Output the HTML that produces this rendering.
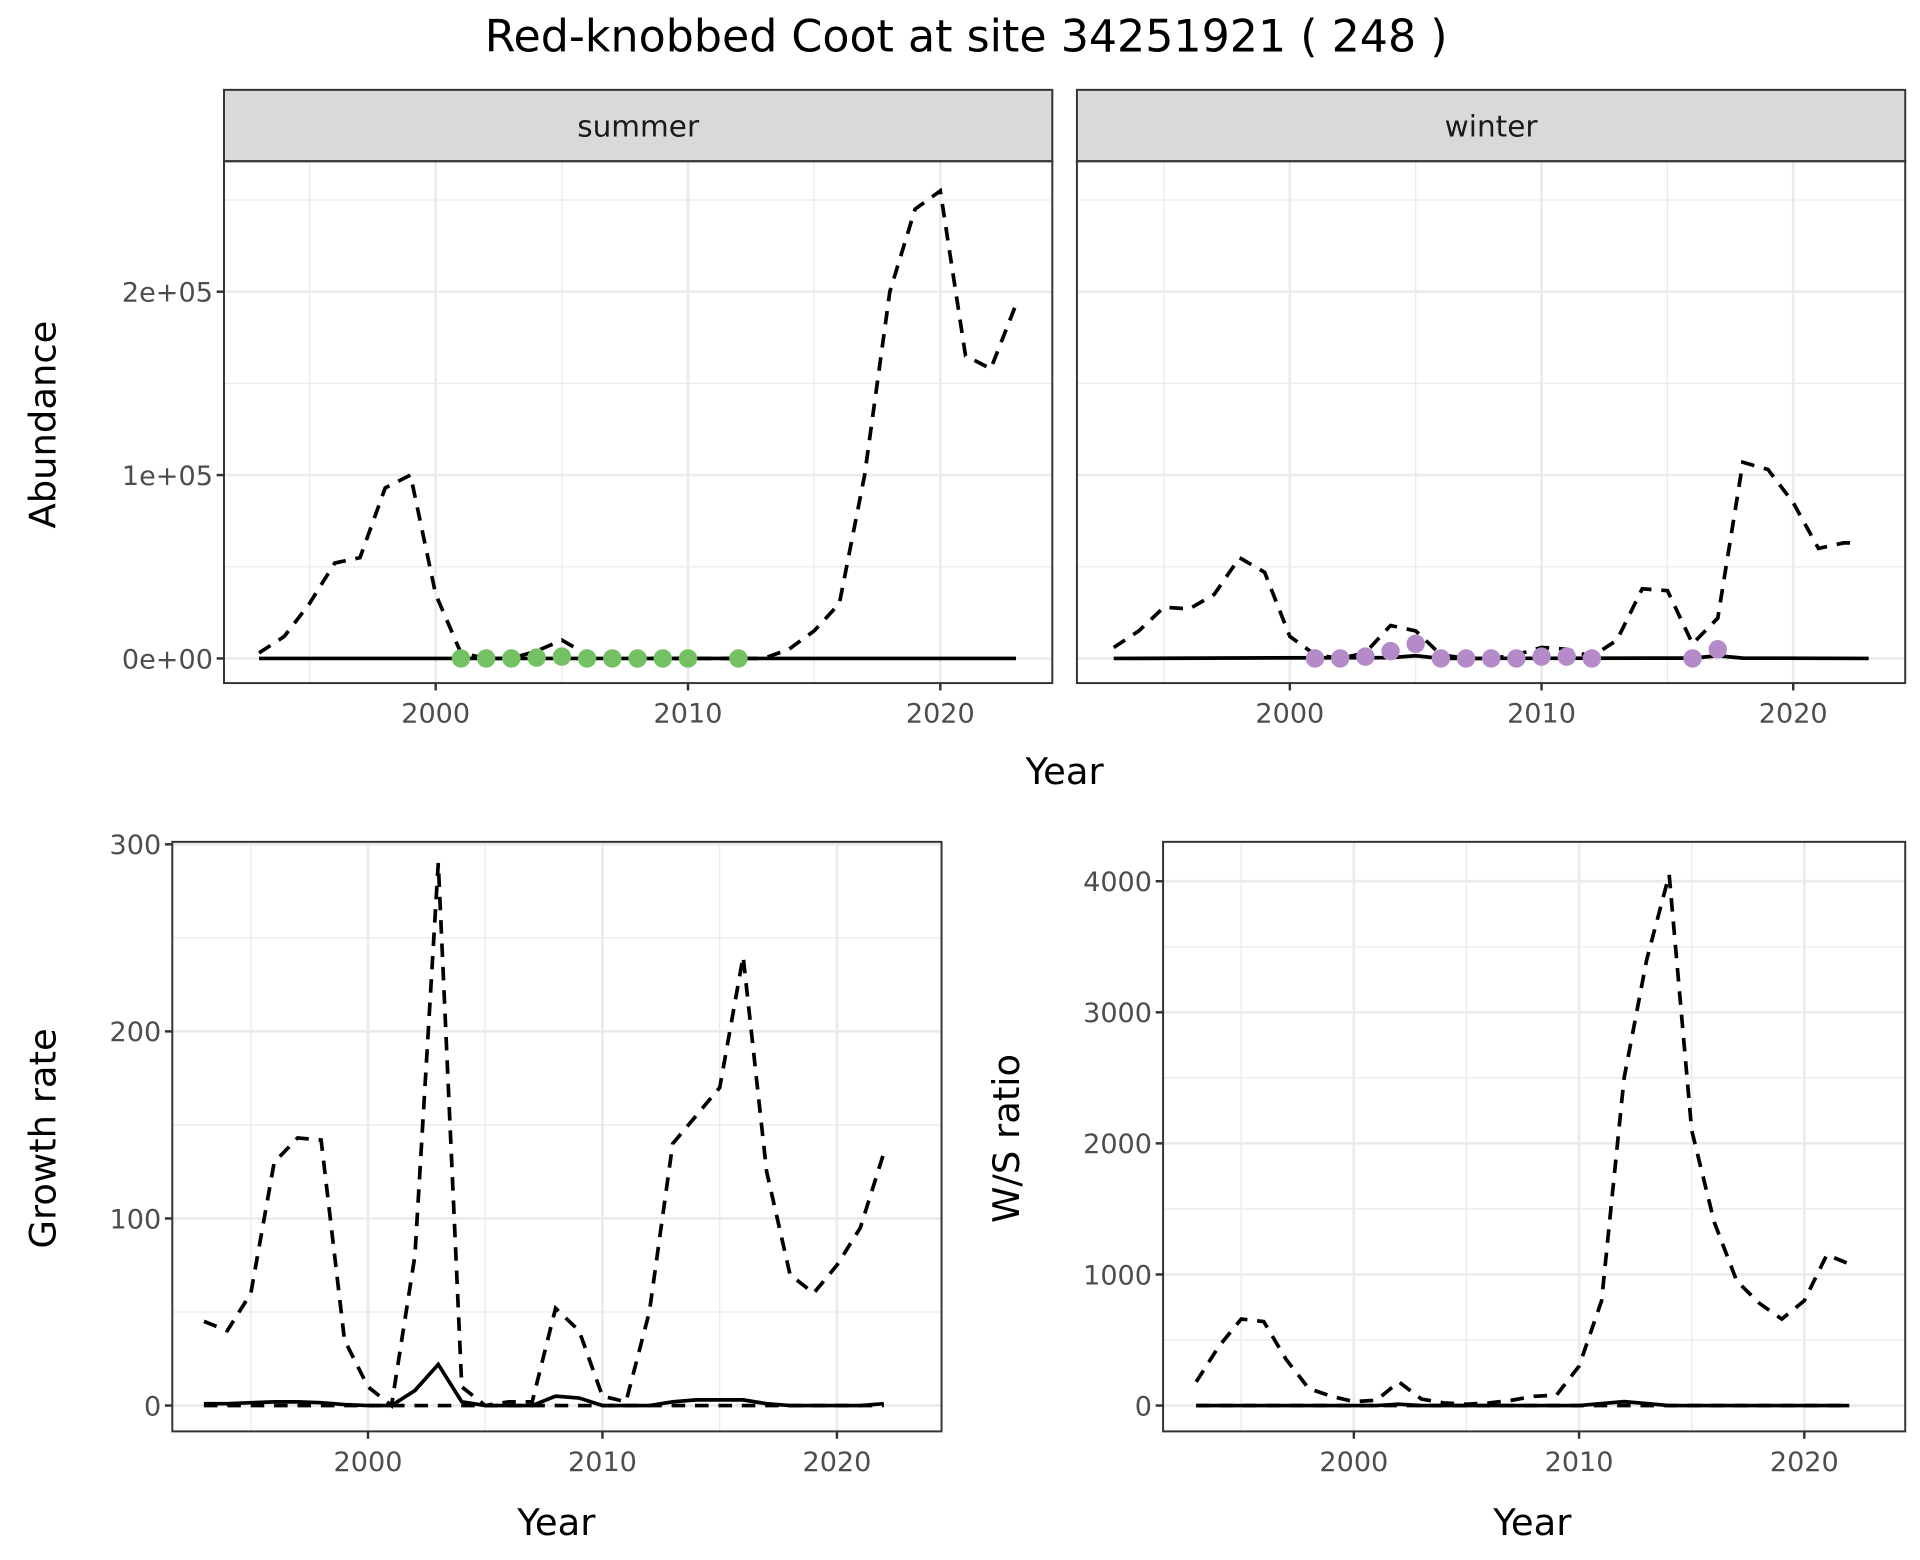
<!DOCTYPE html>
<html><head><meta charset="utf-8"><style>
html,body{margin:0;padding:0;background:#fff}
svg{display:block}
text{font-family:"DejaVu Sans","Liberation Sans",sans-serif}
</style></head><body>
<svg id="s" width="1920" height="1560" viewBox="0 0 1560 1267.5" xmlns="http://www.w3.org/2000/svg">
<rect width="1560" height="1267.5" fill="#fff"/>
<text x="785" y="42" font-size="36" text-anchor="middle">Red-knobbed Coot at site 34251921 ( 248 )</text>
<g id="g"></g>
</svg>
<script>
var G=document.getElementById('g'),h='';
function P(pts,fx,fy,extra){var d='';pts.forEach(function(p,i){d+=(i?'L':'M')+fx(p[0]).toFixed(1)+' '+fy(p[1]).toFixed(1)});h+='<path d="'+d+'" fill="none" stroke="#000" '+extra+'/>';}
var DASH='stroke-width="3" stroke-dasharray="11,8"',SOL='stroke-width="3"';
function panel(x0,x1,y0,y1,fx,fy,xt,xminor,yt,yminor,ylabels,xlabels){
 h+='<rect x="'+x0+'" y="'+y0+'" width="'+(x1-x0)+'" height="'+(y1-y0)+'" fill="#fff"/>';
 xminor.forEach(function(v){h+='<line x1="'+fx(v)+'" x2="'+fx(v)+'" y1="'+y0+'" y2="'+y1+'" stroke="#ebebeb" stroke-width="1.1"/>'});
 yminor.forEach(function(v){h+='<line y1="'+fy(v)+'" y2="'+fy(v)+'" x1="'+x0+'" x2="'+x1+'" stroke="#ebebeb" stroke-width="1.1"/>'});
 xt.forEach(function(v){h+='<line x1="'+fx(v)+'" x2="'+fx(v)+'" y1="'+y0+'" y2="'+y1+'" stroke="#ebebeb" stroke-width="2.2"/>'});
 yt.forEach(function(v){h+='<line y1="'+fy(v)+'" y2="'+fy(v)+'" x1="'+x0+'" x2="'+x1+'" stroke="#ebebeb" stroke-width="2.2"/>'});
 if(xlabels) xt.forEach(function(v){h+='<line x1="'+fx(v)+'" x2="'+fx(v)+'" y1="'+y1+'" y2="'+(y1+6)+'" stroke="#333" stroke-width="2"/><text x="'+fx(v)+'" y="'+(y1+32)+'" font-size="22" fill="#4d4d4d" text-anchor="middle">'+v+'</text>'});
 if(ylabels) yt.forEach(function(v,i){h+='<line y1="'+fy(v)+'" y2="'+fy(v)+'" x1="'+(x0-6)+'" x2="'+x0+'" stroke="#333" stroke-width="2"/><text x="'+(x0-9)+'" y="'+(fy(v)+8)+'" font-size="22" fill="#4d4d4d" text-anchor="end">'+ylabels[i]+'</text>'});
}
function border(x0,x1,y0,y1){h+='<rect x="'+x0+'" y="'+y0+'" width="'+(x1-x0)+'" height="'+(y1-y0)+'" fill="none" stroke="#333" stroke-width="1.6"/>';}
function yrs(a,start){return a.map(function(v,i){return [start+i,v]});}
var fyA=function(v){return 535-v*0.00149};
var fxL=function(y){return 354+(y-2000)*20.5}, fxR=function(y){return 1048+(y-2000)*20.45};
[[182,855,fxL],[875,1548,fxR]].forEach(function(c,k){
 panel(c[0],c[1],131,555,c[2],fyA,[2000,2010,2020],[1995,2005,2015],[0,100000,200000],[50000,150000,250000],k==0?['0e+00','1e+05','2e+05']:null,true);
 h+='<rect x="'+c[0]+'" y="73" width="'+(c[1]-c[0])+'" height="58" fill="#d9d9d9" stroke="#333" stroke-width="1.6"/>';
 h+='<text x="'+((c[0]+c[1])/2)+'" y="111" font-size="24" fill="#1a1a1a" text-anchor="middle">'+(k==0?'summer':'winter')+'</text>';
});
var sumD=[3000,12000,30000,52000,55000,93000,100000,35000,3000,0,0,4000,10000,2000,0,0,0,0,0,0,0,5000,15000,30000,100000,200000,245000,255000,165000,158000,193000];
P(yrs(sumD,1993),fxL,fyA,DASH);
P(yrs(sumD.map(function(){return 0}),1993),fxL,fyA,SOL);
[2001,2002,2003,2004,2005,2006,2007,2008,2009,2010,2012].forEach(function(y){var v=(y==2004?500:y==2005?1000:0);h+='<circle cx="'+fxL(y)+'" cy="'+fyA(v)+'" r="7.5" fill="#74c163"/>'});
var winD=[6000,15000,28000,27000,35000,55000,47000,12000,2000,0,3000,18000,15000,2000,0,0,2000,6000,5000,1000,10000,38000,37000,8000,22000,107000,103000,85000,60000,63000,63000];
var wp=yrs(winD,1993);wp[wp.length-1][0]=2022.6;
P(wp,fxR,fyA,DASH);
P([[1993,0],[1998,300],[2004,500],[2005,1500],[2006,0],[2016,200],[2017,1500],[2018,200],[2023,0]],fxR,fyA,SOL);
[[2001,0],[2002,0],[2003,1000],[2004,4000],[2005,8000],[2006,0],[2007,0],[2008,0],[2009,0],[2010,1000],[2011,1000],[2012,0],[2016,0],[2017,5000]].forEach(function(p){h+='<circle cx="'+fxR(p[0])+'" cy="'+fyA(p[1])+'" r="7.5" fill="#b48bc8"/>'});
border(182,855,131,555);border(875,1548,131,555);
h+='<text x="865" y="637" font-size="30" text-anchor="middle">Year</text>';
h+='<text transform="translate(45,345) rotate(-90)" font-size="30" text-anchor="middle">Abundance</text>';
var fxG=function(y){return 299+(y-2000)*19.05}, fyG=function(v){return 1142-v*1.52};
panel(140,765,684,1163,fxG,fyG,[2000,2010,2020],[1995,2005,2015],[0,100,200,300],[50,150,250],['0','100','200','300'],true);
var gD=[45,40,60,130,143,142,35,10,0,80,290,10,0,2,2,52,40,5,2,50,140,155,170,240,125,70,60,75,95,135];
P(yrs(gD,1993),fxG,fyG,DASH);
var gS=[1,1,1.5,2,2,1.5,0.5,0,0,8,22,2,0,0,0,5,4,0,0,0,2,3,3,3,1,0,0,0,0,1];
P(yrs(gS,1993),fxG,fyG,SOL);
P(yrs(gS.map(function(){return 0}),1993),fxG,fyG,DASH);
border(140,765,684,1163);
h+='<text x="452" y="1247" font-size="30" text-anchor="middle">Year</text>';
h+='<text transform="translate(45,925) rotate(-90)" font-size="30" text-anchor="middle">Growth rate</text>';
var fxW=function(y){return 1100+(y-2000)*18.3}, fyW=function(v){return 1142-v*0.1065};
panel(945,1548,684,1163,fxW,fyW,[2000,2010,2020],[1995,2005,2015],[0,1000,2000,3000,4000],[500,1500,2500,3500],['0','1000','2000','3000','4000'],true);
var wD=[180,450,660,640,350,130,70,30,40,180,50,20,10,20,40,70,80,300,800,2500,3400,4050,2100,1400,950,780,660,800,1150,1080];
P(yrs(wD,1993),fxW,fyW,DASH);
var wS=wD.map(function(v,i){return [1993+i,(i==19?30:i==18||i==20?15:i==9?10:0)]});
P(wS,fxW,fyW,SOL);
P(yrs(wD.map(function(){return 0}),1993),fxW,fyW,DASH);
border(945,1548,684,1163);
h+='<text x="1245" y="1247" font-size="30" text-anchor="middle">Year</text>';
h+='<text transform="translate(828,925) rotate(-90)" font-size="30" text-anchor="middle">W/S ratio</text>';
G.innerHTML=h;
</script>
</body></html>
